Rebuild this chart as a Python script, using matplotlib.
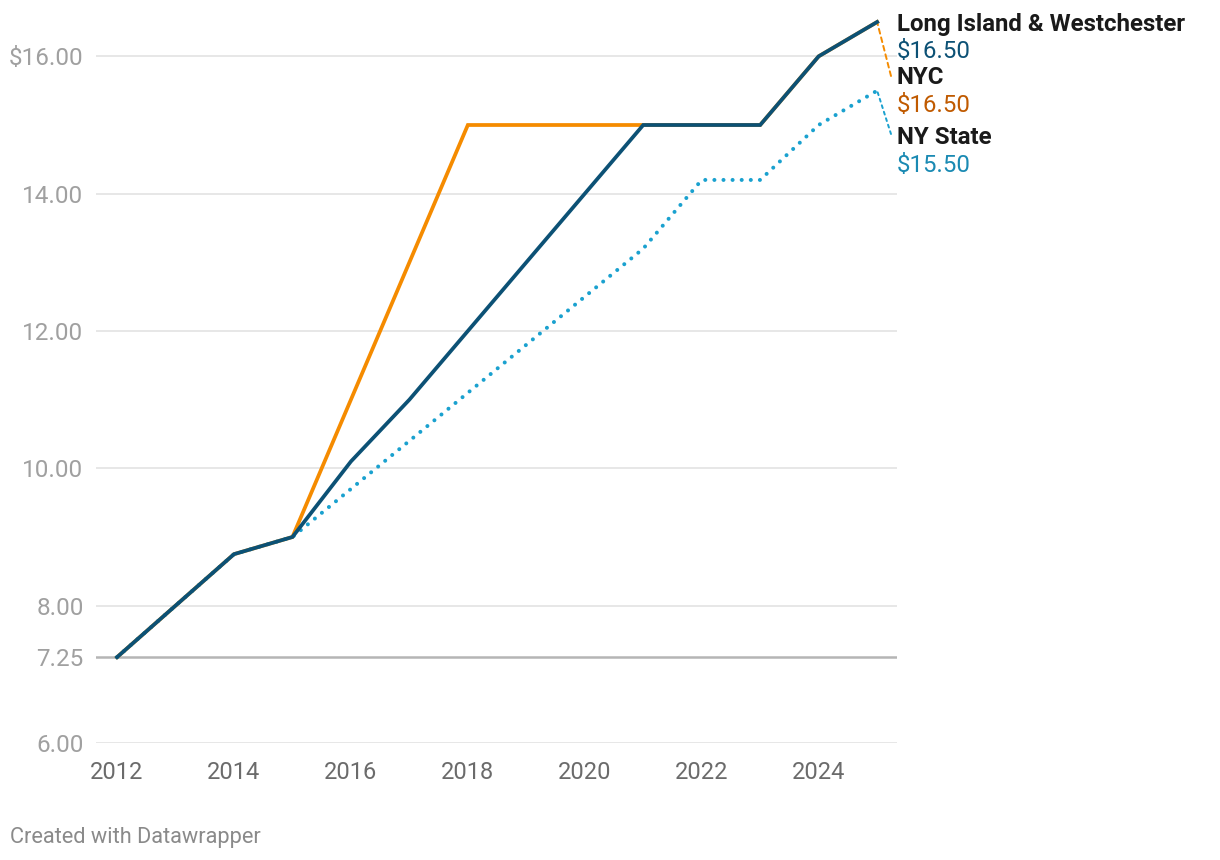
import matplotlib.pyplot as plt

plt.rcParams['font.family'] = ['Roboto', 'DejaVu Sans']

# data
years = [2012, 2013, 2014, 2015, 2016, 2017, 2018, 2019, 2020, 2021, 2022, 2023, 2024, 2025]
li_west = [7.25, 8.00, 8.75, 9.00, 10.10, 11.00, 12.00, 13.00, 14.00, 15.00, 15.00, 15.00, 16.00, 16.50]
nyc = [7.25, 8.00, 8.75, 9.00, 11.00, 13.00, 15.00, 15.00, 15.00, 15.00, 15.00, 15.00, 16.00, 16.50]
ny_state = [7.25, 8.00, 8.75, 9.00, 9.70, 10.40, 11.10, 11.80, 12.50, 13.20, 14.20, 14.20, 15.00, 15.50]

y_ticks = [6.00, 7.25, 8.00, 10.00, 12.00, 14.00, 16.00]
y_labels = ['6.00', '7.25', '8.00', '10.00', '12.00', '14.00', '$16.00']
x_ticks = [2012, 2014, 2016, 2018, 2020, 2022, 2024]

DARK = '#0c5175'
ORANGE = '#f58b00'
LIGHT = '#1aa1cf'

W, H = 1220, 860
fig = plt.figure(figsize=(W / 100, H / 100), dpi=100)
ax = fig.add_axes([96 / W, (H - 743) / H, (897 - 96) / W, (743 - 22) / H])

#gridlines
for t in y_ticks:
    if t == 7.25:
        ax.axhline(t, color='#b5b5b5', lw=1.8, zorder=1)
    else:
        ax.axhline(t, color='#e3e3e3', lw=1.2, zorder=0)

ax.plot(years, nyc, color=ORANGE, lw=2.7, zorder=2, solid_joinstyle='miter', clip_on=False)
ax.plot(years, ny_state, color=LIGHT, lw=2.9, ls=(0, (0.01, 2.25)), dash_capstyle='round', zorder=3, clip_on=False)
ax.plot(years, li_west, color=DARK, lw=2.7, zorder=4, solid_joinstyle='miter', clip_on=False)

ax.set_xlim(2011.64, 2025.34)
ax.set_ylim(6.0, 16.5)
ax.set_yticks(y_ticks)
ax.set_yticklabels(y_labels)
ax.set_xticks(x_ticks)
for s in ax.spines.values():
    s.set_visible(False)
ax.tick_params(axis='y', length=0, pad=9, labelsize=17.5, labelcolor='#a0a0a0')
ax.tick_params(axis='x', length=0, pad=13, labelsize=17, labelcolor='#6b6b6b')

# labels on the right
def ftext(x, y, s, **kw):
    fig.text(x / W, 1 - y / H, s, va='center', ha='left', fontsize=17.3, **kw)

ftext(897, 24, 'Long Island & Westchester', fontweight='bold', color='#1a1a1a')
ftext(897, 52, f'${li_west[-1]:.2f}', color=DARK)
ftext(897, 78, 'NYC', fontweight='bold', color='#1a1a1a')
ftext(897, 105, f'${nyc[-1]:.2f}', color='#c05a00')
ftext(897, 138, 'NY State', fontweight='bold', color='#1a1a1a')
ftext(897, 165, f'${ny_state[-1]:.2f}', color='#1a8ab3')

# connectors
ax.annotate('', xy=(years[-1], nyc[-1]), xycoords='data', xytext=(891, H - 76), textcoords='figure pixels',
            arrowprops=dict(arrowstyle='-', color=ORANGE, lw=1.4, ls=(0, (2.5, 2)), shrinkA=0, shrinkB=0))
ax.annotate('', xy=(years[-1], ny_state[-1]), xycoords='data', xytext=(891, H - 134), textcoords='figure pixels',
            arrowprops=dict(arrowstyle='-', color=LIGHT, lw=1.4, ls=(0, (1.5, 2)), shrinkA=0, shrinkB=0))

fig.text(10 / W, 1 - 838 / H, 'Created with Datawrapper', fontsize=15.7, color='#8a8a8a', va='center', ha='left')

fig.savefig('out.png', dpi=100)
